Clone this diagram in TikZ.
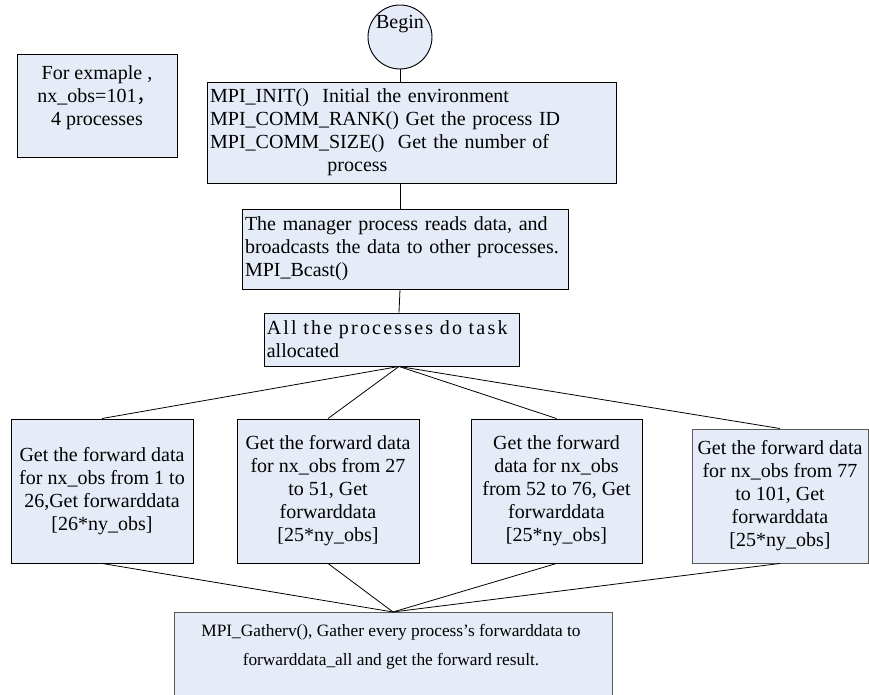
\documentclass[tikz,border=0pt]{standalone}
\usepackage{fontspec}
\setmainfont{Liberation Serif}
\newfontfamily\cjkfont{Noto Sans CJK SC}
\definecolor{boxfill}{RGB}{230,236,247}
\definecolor{edgegray}{RGB}{90,90,90}
\begin{document}
\begin{tikzpicture}[x=0.75pt,y=-0.75pt,
  font=\fontsize{15}{17.25}\selectfont,
  boxstyle/.style={draw=black,fill=boxfill,line width=0.7pt,inner sep=2pt},
  grayedge/.style={draw=edgegray},
  conn/.style={draw=black,line width=0.6pt}]
\useasboundingbox (0,0) rectangle (869,695);

% Begin
\node[boxstyle,circle,minimum size=48pt,inner sep=0pt] (begin) at (400,37) {};
\node[inner sep=0pt] (begintext) at (400,24) {Begin};

% example box
\node[boxstyle,minimum width=120pt,minimum height=77.25pt] (example) at (97,105.5) {};
\node[inner sep=0pt,align=center] (exampletext) at (97,98) {For exmaple ,\\nx\_obs=101{\cjkfont ，}\\4 processes};

% init box
\node[boxstyle,minimum width=306.75pt,minimum height=75.75pt,text width=302pt,align=left] (init) at (411.5,132.5)
 {MPI\_INIT()\ \ Initial the environment\\MPI\_COMM\_RANK() Get the process ID\\MPI\_COMM\_SIZE()\ \ Get the number of\\\hspace*{88pt}process};

% manager box
\node[boxstyle,minimum width=244.5pt,minimum height=60pt,text width=240pt,align=left] (manager) at (405,249)
 {The manager process reads data, and\\broadcasts the data to other processes.\\MPI\_Bcast()};

% task box
\node[boxstyle,minimum width=191.25pt,minimum height=39.75pt,text width=187pt,align=left] (task) at (391.5,339.5)
 {{\addfontfeatures{LetterSpace=11}All the processes do task}\\allocated};

% four process boxes
\node[boxstyle,minimum width=136.5pt,minimum height=108pt,align=center] (p1) at (102,491)
 {Get the forward data\\for nx\_obs from 1 to\\26,Get forwarddata\\{[}26*ny\_obs{]}};
\node[boxstyle,minimum width=136.5pt,minimum height=108pt,align=center] (p2) at (328,491)
 {Get the forward data\\for nx\_obs from 27\\to 51, Get\\forwarddata\\{[}25*ny\_obs{]}};
\node[boxstyle,minimum width=128.25pt,minimum height=108pt,align=center] (p3) at (556.5,491)
 {Get the forward\\data for nx\_obs\\from 52 to 76, Get\\forwarddata\\{[}25*ny\_obs{]}};
\node[boxstyle,grayedge,minimum width=132pt,minimum height=100.5pt,align=center] (p4) at (780,496)
 {Get the forward data\\for nx\_obs from 77\\to 101, Get\\forwarddata\\{[}25*ny\_obs{]}};

% gather box
\node[boxstyle,grayedge,minimum width=328.5pt,minimum height=66pt,anchor=north] (gather) at (393,612) {};
\node[inner sep=0pt,align=center,font=\fontsize{13}{21.75}\selectfont] (gathertext) at (391,647)
 {MPI\_Gatherv(), Gather every process’s forwarddata to\\forwarddata\_all and get the forward result.};

% connectors
\coordinate (hub) at (399,366);
\draw[conn] (begin.south) -- (begin.south |- init.north);
\draw[conn] (begin.south |- init.south) -- (begin.south |- manager.north);
\draw[conn] (begin.south |- manager.south) -- (hub |- task.north);
\draw[conn] (hub |- task.south) -- (p1.north);
\draw[conn] (hub |- task.south) -- (p2.north);
\draw[conn] (hub |- task.south) -- (p3.north);
\draw[conn] (hub |- task.south) -- (p4.north);
\draw[conn] (p1.south) -- (gather.north);
\draw[conn] (p2.south) -- (gather.north);
\draw[conn] (p3.south) -- (gather.north);
\draw[conn] (p4.south) -- (gather.north);
\end{tikzpicture}
\end{document}
